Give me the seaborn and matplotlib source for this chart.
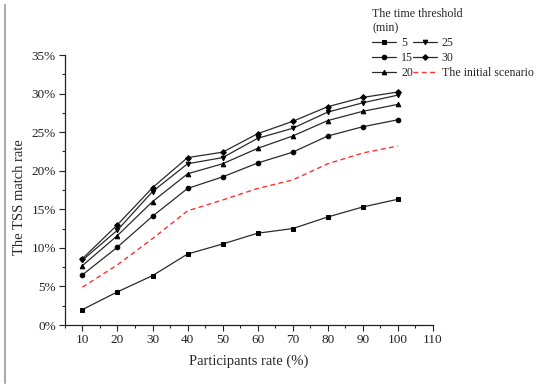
import pandas as pd
import seaborn as sns
import matplotlib.pyplot as plt
from matplotlib.lines import Line2D
from matplotlib.ticker import MultipleLocator, FuncFormatter

participants = [10, 20, 30, 40, 50, 60, 70, 80, 90, 100]
t5 = [2.0, 4.3, 6.4, 9.2, 10.5, 11.9, 12.5, 14.0, 15.3, 16.3]
t15 = [6.5, 10.1, 14.1, 17.7, 19.2, 21.0, 22.4, 24.5, 25.7, 26.6]
t20 = [7.7, 11.6, 16.0, 19.6, 20.9, 22.9, 24.5, 26.5, 27.7, 28.6]
t25 = [8.4, 12.3, 17.3, 20.9, 21.7, 24.2, 25.5, 27.6, 28.8, 29.8]
t30 = [8.6, 13.0, 17.8, 21.7, 22.4, 24.8, 26.4, 28.3, 29.5, 30.2]
initial = [4.9, 7.8, 11.2, 14.8, 16.2, 17.7, 18.8, 20.9, 22.3, 23.2]

series_names = ['5', '15', '20', '25', '30']
series_vals = [t5, t15, t20, t25, t30]
series_markers = ['s', 'o', '^', 'v', 'D']

sns.set_style('ticks')
plt.rcParams['font.family'] = ['Liberation Serif', 'DejaVu Serif']
plt.rcParams['xtick.direction'] = 'out'
plt.rcParams['ytick.direction'] = 'out'

fig = plt.figure(figsize=(5.5, 3.89), dpi=100)
ax = fig.add_axes([0.118, 0.1645, 0.669, 0.6941])

# thin grey frame line on the left edge of the original image
fig.add_artist(Line2D([5 / 550, 5 / 550], [6 / 389, 1 - 5 / 389],
                      transform=fig.transFigure, color='#aaaaaa', linewidth=1.5))

for name, vals, mk in zip(series_names, series_vals, series_markers):
    df = pd.DataFrame({'x': participants, 'y': vals})
    sns.lineplot(data=df, x='x', y='y', ax=ax, color='#2a2a2a', linewidth=0.9,
                 marker=mk, markersize=3.3 if mk != 'D' else 2.9,
                 markeredgecolor='black', markerfacecolor='black', label=name)

df_init = pd.DataFrame({'x': participants, 'y': initial})
sns.lineplot(data=df_init, x='x', y='y', ax=ax, color='#ff3030', linewidth=1.0,
             dashes=False, label='The initial scenario')
ax.lines[-1].set_dashes((3.5, 2.5))

ax.set_xlim(5, 110)
ax.set_ylim(0, 35)
ax.xaxis.set_minor_locator(MultipleLocator(5))
ax.yaxis.set_major_locator(MultipleLocator(5))
ax.yaxis.set_minor_locator(MultipleLocator(2.5))
ax.set_xticks(participants + [110])
ax.yaxis.set_major_formatter(FuncFormatter(lambda v, p: f'{v:.0f}%'))
ax.tick_params(axis='both', which='major', length=4, width=0.8, labelsize=9.5,
               colors='#222222', pad=2.5)
ax.tick_params(axis='both', which='minor', length=2.5, width=0.8)
sns.despine(ax=ax)
for s in ['left', 'bottom']:
    ax.spines[s].set_linewidth(0.9)
    ax.spines[s].set_color('#222222')

ax.set_xlabel('Participants rate (%)', fontsize=10.5, labelpad=6)
ax.set_ylabel('The TSS match rate', fontsize=10.5)
ax.yaxis.set_label_coords(-0.106, 0.474)

handles, labels = ax.get_legend_handles_labels()
leg = ax.legend(handles, labels, title='The time threshold\n(min)', ncol=2,
                loc='upper left', bbox_to_anchor=(364 / 550, 1 - 0 / 389),
                bbox_transform=fig.transFigure, frameon=False, fontsize=8.6,
                title_fontsize=8.6, handlelength=2.0, handletextpad=0.4,
                columnspacing=0.0, labelspacing=0.25, borderpad=0.2,
                alignment='left')

fig.savefig('out.png', dpi=100)
